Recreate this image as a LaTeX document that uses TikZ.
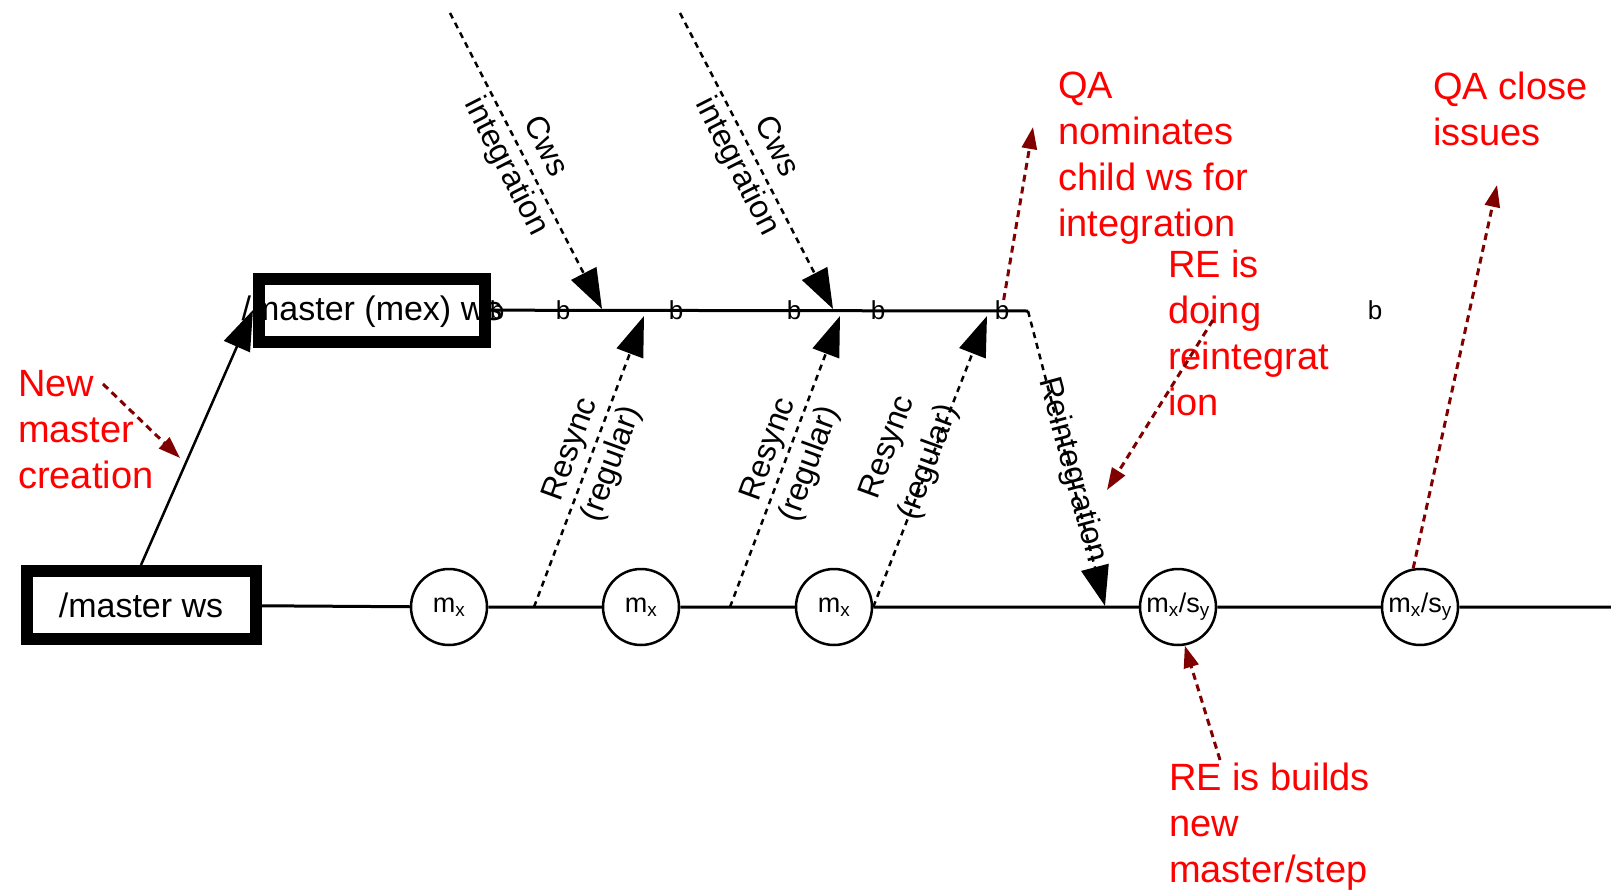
\documentclass[tikz,border=0pt]{standalone}
\usepackage{fontspec}
\setmainfont{Liberation Sans}
\usetikzlibrary{arrows.meta}
\definecolor{notered}{RGB}{255,0,0}
\definecolor{notedark}{RGB}{128,0,0}

\begin{document}
\begin{tikzpicture}[x=1pt, y=-1pt,
  wsbox/.style = {draw, line width=12pt, inner sep=0pt},
  commit/.style = {draw, circle, line width=2.5pt, minimum size=76pt, inner sep=0pt, font=\fontsize{27}{28}\selectfont},
  tick/.style = {anchor=base, inner sep=0pt, font=\fontsize{26}{26}\selectfont},
  flow/.style = {line width=2.5pt, dash pattern=on 6pt off 5pt, -{Triangle[length=40pt, width=28pt]}},
  lbl/.style = {align=center, inner sep=0pt, font=\fontsize{32}{44}\selectfont},
  note/.style = {align=left, anchor=north west, inner sep=0pt, text=notered, font=\fontsize{38}{46}\selectfont},
  pointer/.style = {draw=notedark, line width=3pt, dash pattern=on 7pt off 5pt, -{Triangle[length=22pt, width=15pt]}}]

\useasboundingbox (0,0) rectangle (1611,891);

%% workspaces
\node[wsbox, minimum width=229pt, minimum height=68pt, font=\fontsize{34}{34}\selectfont] (master) at (141,605) {/master ws};
\node[inner sep=0pt, font=\fontsize{34}{34}\selectfont] (mextext) at (372,312) {/master (mex) ws};
\node[wsbox, minimum width=226pt, minimum height=63pt] (mex) at (372,310) {};

%% commits on /master
\node[commit] (m1) at (449,607) {m\textsubscript{x}};
\node[commit] (m2) at (641,607) {m\textsubscript{x}};
\node[commit] (m3) at (834,607) {m\textsubscript{x}};
\node[commit] (ms1) at (1178,607) {m\textsubscript{x}/s\textsubscript{y}};
\node[commit] (ms2) at (1420,607) {m\textsubscript{x}/s\textsubscript{y}};

%% marks on the child line
\node[tick] (b0) at (497,319) {b};
\node[tick] (b1) at (563,319) {b};
\node[tick] (b2) at (676,319) {b};
\node[tick] (b3) at (794,319) {b};
\node[tick] (b4) at (878,319) {b};
\node[tick] (b5) at (1002,319) {b};
\node[tick] (b6) at (1375,319) {b};

%% free ends
\coordinate (mainend) at (1611,607);
\coordinate (topend) at (1028,311);
\coordinate (cs1) at (450,13);
\coordinate (ct1) at (602,309);
\coordinate (cs2) at (680,13);
\coordinate (ct2) at (833,309);
\coordinate (rs1) at (534,607);
\coordinate (rs2) at (730,607);
\coordinate (rt1) at (644,316);
\coordinate (rt2) at (840,316);
\coordinate (rt3) at (987,316);
\coordinate (ritip) at (1105,606);

%% lines
\draw[line width=3pt] (master) -- (m1) -- (m2) -- (m3) -- (ms1) -- (ms2) -- (mainend);
\draw[line width=3pt] (mex) -- (topend);
\draw[line width=2.5pt, -{Triangle[length=40pt, width=28pt]}] (master.north) -- (mex.west);

%% child ws integration
\draw[flow] (cs1) -- (ct1);
\draw[flow] (cs2) -- (ct2);
\node[lbl, rotate=-63] (cwslbl1) at (525,157) {Cws\\integration};
\node[lbl, rotate=-63] (cwslbl2) at (756,157) {Cws\\integration};

%% resync
\draw[flow] (rs1) -- (rt1);
\draw[flow] (rs2) -- (rt2);
\draw[flow] (m3.east) -- (rt3);
\node[lbl, rotate=70] (rslbl1) at (592,457) {Resync\\(regular)};
\node[lbl, rotate=70] (rslbl2) at (790,457) {Resync\\(regular)};
\node[lbl, rotate=70] (rslbl3) at (909,455) {Resync\\(regular)};

%% reintegration
\draw[flow] (topend) -- (ritip);
\node[lbl, rotate=-75] (rilbl) at (1072,470) {Reintegration};

%% notes
\node[note] (newnote) at (18,370) {New\\master\\creation};
\node[note] (qanote) at (1058,72) {QA\\nominates\\child ws for\\integration};
\node[note] (renote) at (1168,250) {RE is\\doing\\reintegrat\\ion};
\node[note] (closenote) at (1433,72) {QA close\\issues};
\node[note] (buildnote) at (1169,763) {RE is builds\\new\\master/step};

\coordinate (newtail) at (103,384);
\coordinate (newtip) at (180,458);
\coordinate (qatip) at (1033,127);
\coordinate (retail) at (1213,320);
\coordinate (retip) at (1107,490);
\coordinate (closetip) at (1497,185);
\coordinate (buildtail) at (1220,760);

\draw[pointer] (newtail) -- (newtip);
\draw[pointer] (b5) -- (qatip);
\draw[pointer] (retail) -- (retip);
\draw[pointer] (ms2.100) -- (closetip);
\draw[pointer] (buildtail) -- (ms1.-80);

\end{tikzpicture}
\end{document}
